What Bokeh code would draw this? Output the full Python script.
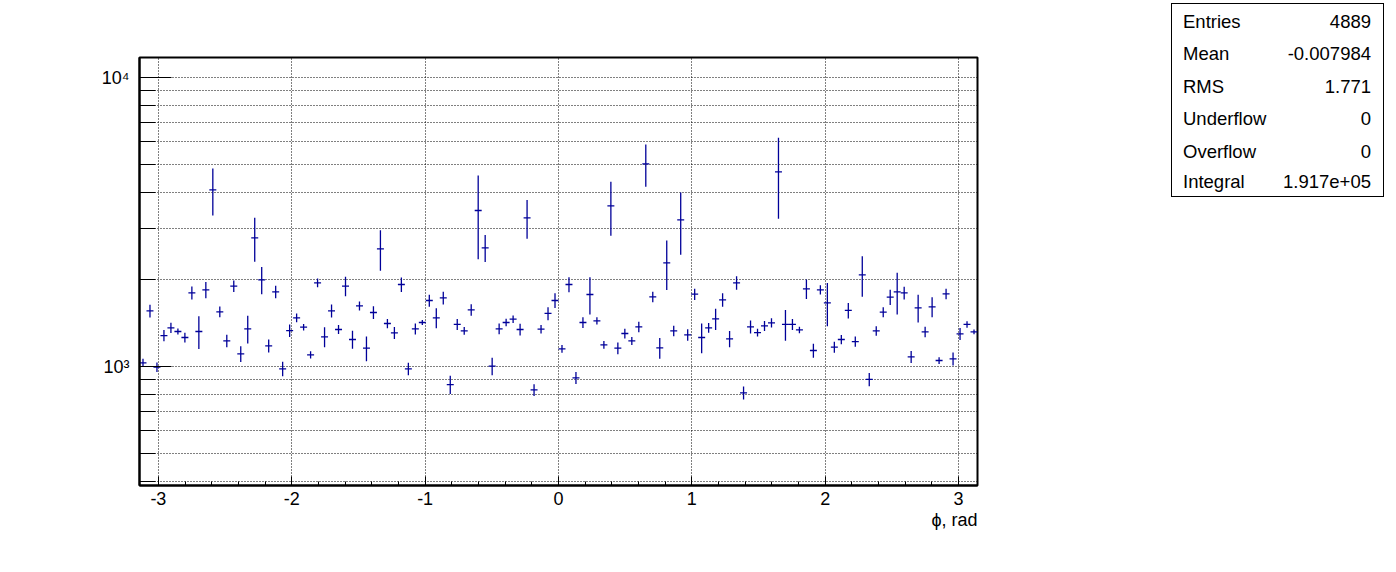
import numpy as np
from bokeh.plotting import figure
from bokeh.layouts import row
from bokeh.models import Range1d, FixedTicker, ColumnDataSource, Title, Div
from bokeh.embed import file_html
from bokeh.resources import INLINE

# ---- data -------------------------------------------------------------
n_bins = 120
phi_min, phi_max = -np.pi, np.pi

counts = [1030, 1558, 995, 1280, 1361, 1322, 1260, 1798, 1322, 1842,
          4085, 1546, 1227, 1897, 1106, 1350, 2787, 1995, 1179, 1813,
          982, 1332, 1474, 1368, 1097, 1948, 1267, 1558, 1343, 1897,
          1240, 1622, 1157, 1538, 2554, 1409, 1308, 1922, 982, 1350,
          1420, 1692, 1474, 1728, 866, 1398, 1329, 1571, 3466, 2574,
          1003, 1350, 1420, 1458, 1343, 3270, 830, 1346, 1526, 1692,
          1151, 1922, 914, 1420, 1775, 1439, 1189, 3597, 1157, 1301,
          1227, 1372, 5027, 1742, 1160, 2284, 1329, 3218, 1287, 1780,
          1260, 1361, 1462, 1701, 1247, 1948, 811, 1372, 1311, 1383,
          1416, 4717, 1398, 1398, 1339, 1857, 1136, 1842, 1661, 1167,
          1240, 1563, 1220, 2076, 902, 1329, 1542, 1738, 1813, 1798,
          1080, 1596, 1318, 1609, 1049, 1784, 1063, 1297, 1398, 1318]

errors = [34, 79, 37, 58, 55, 32, 50, 93, 172, 120,
          756, 66, 60, 88, 69, 149, 482, 216, 60, 89,
          56, 67, 51, 35, 32, 67, 100, 81, 48, 147,
          89, 58, 114, 78, 409, 52, 63, 112, 49, 59,
          28, 81, 117, 88, 63, 61, 40, 71, 1114, 275,
          70, 58, 43, 43, 62, 502, 39, 45, 79, 99,
          35, 115, 44, 61, 260, 42, 36, 760, 55, 51,
          39, 57, 838, 72, 96, 446, 56, 782, 60, 80,
          149, 53, 124, 92, 81, 104, 42, 70, 40, 55,
          52, 1470, 170, 61, 35, 143, 63, 68, 284, 52,
          46, 97, 50, 332, 48, 50, 60, 106, 299, 91,
          52, 176, 55, 129, 28, 74, 55, 61, 35, 26]

x_ticks = [-3, -2, -1, 0, 1, 2, 3]
x_tick_labels = ["-3", "-2", "-1", "0", "1", "2", "3"]
y_major = [1000, 10000]
y_minor = [400, 500, 600, 700, 800, 900, 2000, 3000, 4000, 5000,
           6000, 7000, 8000, 9000]
y_labels = {1000: "10³", 10000: "10⁴"}
y_min, y_max = 387.5, 11730
x_title = "ϕ, rad"

stats_names = ["Entries", "Mean", "RMS", "Underflow", "Overflow", "Integral"]
stats_values = ["4889", "-0.007984", "1.771", "0", "0", "1.917e+05"]

COLOR = "#000099"
FONT = "Liberation Sans"

# ---- main histogram ------------------------------------------------------
edges = np.linspace(phi_min, phi_max, n_bins + 1)
centers = 0.5 * (edges[:-1] + edges[1:])
c = np.array(counts, dtype=float)
e = np.array(errors, dtype=float)
src = ColumnDataSource(dict(x=centers, x0=edges[:-1], x1=edges[1:],
                            y=c, ylo=c - e, yhi=c + e))

W, H = 1172, 556
p = figure(width=W, height=H, output_backend="svg", toolbar_location=None,
           x_range=Range1d(phi_min, phi_max), y_range=Range1d(y_min, y_max),
           y_axis_type="log",
           min_border_left=139, min_border_right=W - 977,
           min_border_top=57, min_border_bottom=H - 485)
p.background_fill_color = "white"
p.border_fill_color = "white"
p.outline_line_color = "black"
p.outline_line_width = 2

p.segment(x0="x0", x1="x1", y0="y", y1="y", source=src,
          line_color=COLOR, line_width=1.3)
p.segment(x0="x", x1="x", y0="ylo", y1="yhi", source=src,
          line_color=COLOR, line_width=1.3)

minor_x = [round(-3.2 + 0.2 * k, 1) for k in range(33)]
p.xaxis.ticker = FixedTicker(ticks=x_ticks, minor_ticks=minor_x)
p.xaxis.major_label_overrides = dict(zip(x_ticks, x_tick_labels))
p.yaxis.ticker = FixedTicker(ticks=y_major, minor_ticks=y_minor)
p.yaxis.major_label_overrides = y_labels

for ax in (p.xaxis[0], p.yaxis[0]):
    ax.axis_line_width = 2
    ax.axis_line_color = "black"
    ax.major_tick_line_color = "black"
    ax.minor_tick_line_color = "black"
    ax.major_tick_out = 0
    ax.minor_tick_out = 0
    ax.major_label_text_font = FONT
    ax.major_label_text_font_size = "18px"
    ax.major_label_text_color = "black"

p.xaxis.major_tick_in = 9
p.xaxis.minor_tick_in = 4
p.xaxis.major_label_standoff = 6
p.yaxis.major_tick_in = 32
p.yaxis.minor_tick_in = 16
p.yaxis.major_label_standoff = 10

for g in (p.xgrid[0], p.ygrid[0]):
    g.grid_line_color = "black"
    g.grid_line_dash = "1 2"
    g.grid_line_width = 1
p.ygrid.minor_grid_line_color = "black"
p.ygrid.minor_grid_line_dash = "1 2"
p.ygrid.minor_grid_line_width = 1

p.add_layout(Title(text=x_title, align="right", text_font=FONT,
                   text_font_size="18px", text_font_style="normal",
                   text_color="black", standoff=0, offset=0), "below")

# ---- statistics box ------------------------------------------------------
row_tops = [8, 40, 73, 105, 138, 168]   # row positions inside the box
rows_html = ""
for name, val, top in zip(stats_names, stats_values, row_tops):
    rows_html += (
        f'<div style="position:absolute;left:11px;top:{top}px;'
        f'line-height:20px;">{name}</div>'
        f'<div style="position:absolute;right:12px;top:{top}px;'
        f'line-height:20px;text-align:right;">{val}</div>'
    )
box_html = (
    '<div style="position:relative;left:-6px;top:-2px;width:213px;height:194px;'
    'box-sizing:border-box;border:1px solid black;background:white;color:black;'
    "font-family:'Liberation Sans', Arial, sans-serif;font-size:18.5px;\">"
    + rows_html + "</div>"
)
stats = Div(text=box_html, width=208, height=200)

layout = row(p, stats)
open("out.html", "w").write(file_html(layout, INLINE))
